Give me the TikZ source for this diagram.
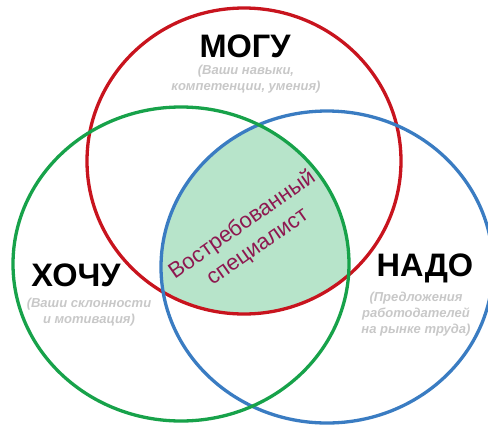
\documentclass[tikz,border=0pt]{standalone}
\usepackage{fontspec}
\setmainfont{Liberation Sans}
\definecolor{cred}{HTML}{C8141E}
\definecolor{cgreen}{HTML}{17A24A}
\definecolor{cblue}{HTML}{3A7CC2}
\definecolor{cfill}{HTML}{B7E4CA}
\definecolor{cgray}{HTML}{C8C8C8}
\definecolor{cmag}{HTML}{8E1850}
\begin{document}
\begin{tikzpicture}[x=1pt,y=-1pt,
  ring/.style={line width=3.3pt},
  title/.style={font=\bfseries\fontsize{32.5}{36}\selectfont, text=black},
  sub/.style={font=\bfseries\itshape\fontsize{13}{16}\selectfont, text=cgray, align=center},
  mid/.style={font=\fontsize{22}{27}\selectfont, text=cmag, align=center}]
\useasboundingbox (0,0) rectangle (488,424);
\begin{scope}
  \clip (244,161) ellipse [x radius=157, y radius=153];
  \clip (181,264) ellipse [x radius=168, y radius=157];
  \fill[cfill] (327,267) ellipse [x radius=166, y radius=156];
\end{scope}
\draw[ring,cred] (244,161) ellipse [x radius=157, y radius=153];
\draw[ring,cblue] (327,267) ellipse [x radius=166, y radius=156];
\draw[ring,cgreen] (181,264) ellipse [x radius=168, y radius=157];
\node[title] (mogu) at (245,46) {МОГУ};
\node[sub] (mogus) at (246,79) {(Ваши навыки,\\компетенции, умения)};
\node[title] (hochu) at (76,275) {ХОЧУ};
\node[sub] (hochus) at (89,312) {(Ваши склонности\\и мотивация)};
\node[title] (nado) at (425,268) {НАДО};
\node[sub] (nados) at (416,314) {(Предложения\\работодателей\\на рынке труда)};
\node[mid, rotate=35] (spec) at (250,236) {Востребованный\\специалист};
\end{tikzpicture}
\end{document}
